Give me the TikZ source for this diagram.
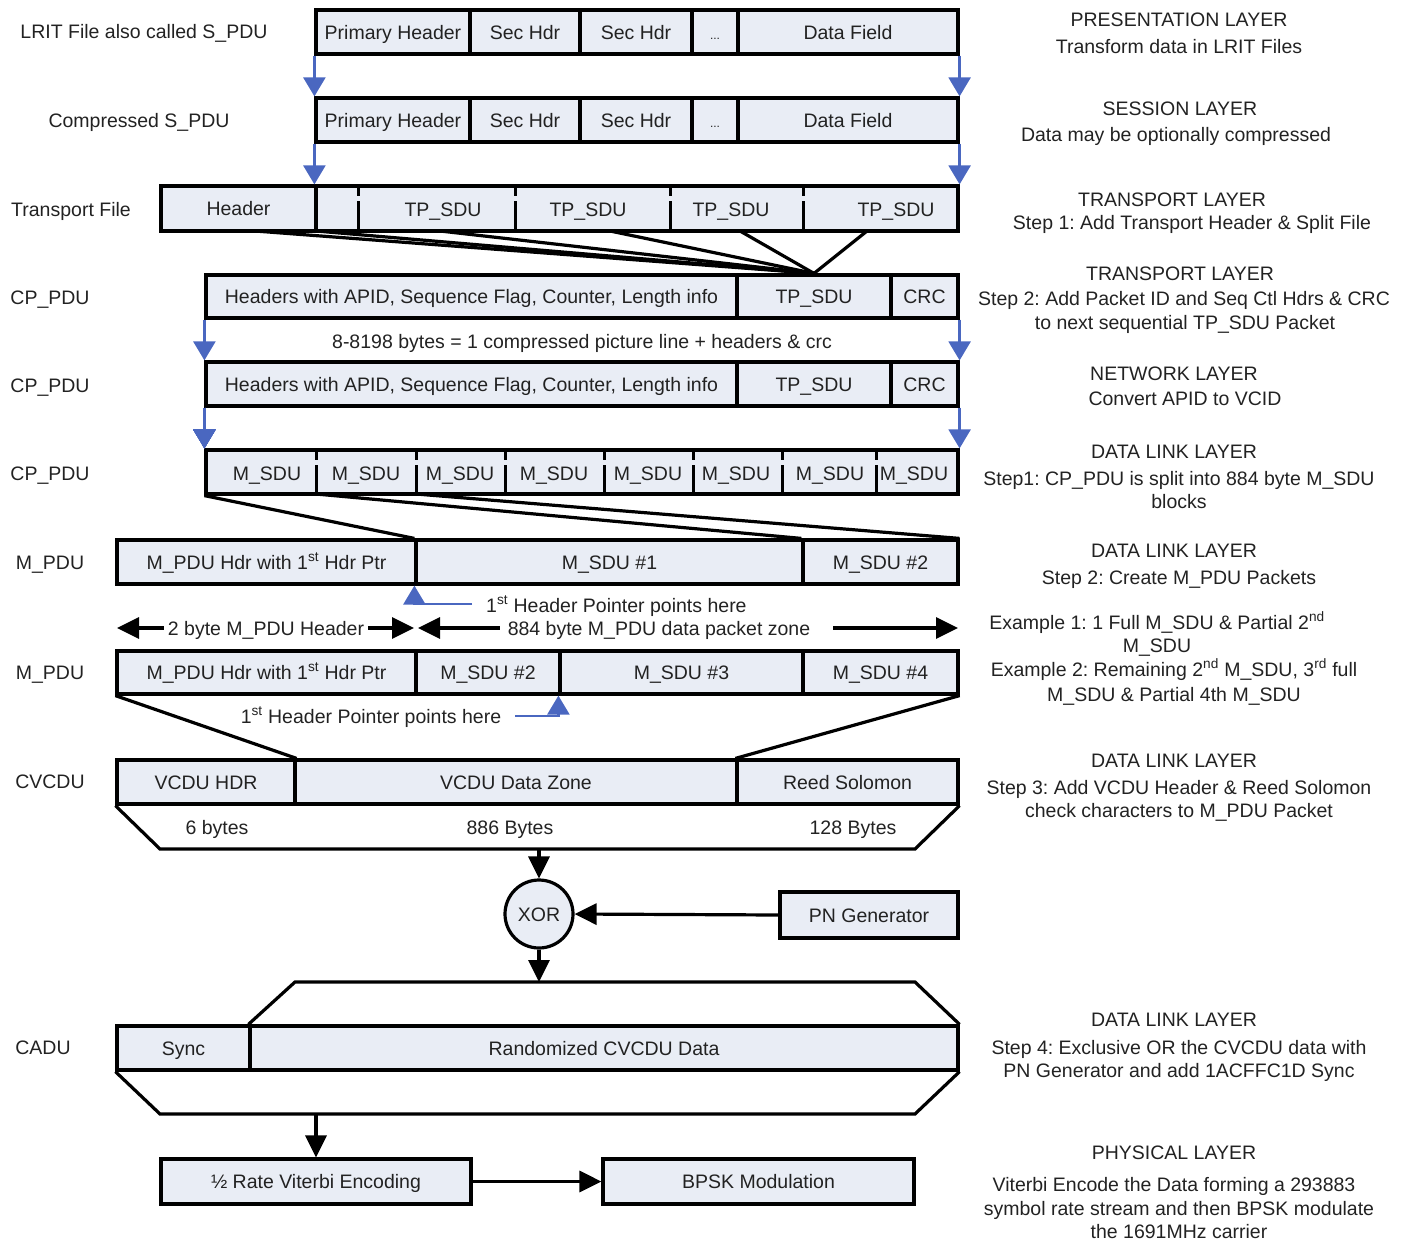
\documentclass[tikz,border=0pt]{standalone}
\usepackage{fontspec}
\setmainfont{Liberation Sans}
\usetikzlibrary{arrows.meta,calc}
\definecolor{cellfill}{HTML}{E9EDF5}
\definecolor{ptrblue}{HTML}{4A67C0}
\definecolor{ink}{HTML}{222222}
\frenchspacing
\newcommand\boxfont{\fontsize{19.5}{24}\selectfont}
\tikzset{
  lbl/.style={inner sep=0pt, font=\boxfont, text=ink, text height=14pt, text depth=0pt},
  cell/.style={lbl, draw=black, fill=cellfill, line width=3.2pt},
  thick line/.style={line width=3.2pt},
  divider/.style={line width=3pt, dash pattern=on 8pt off 5pt on 40pt off 0pt},
  bluearrow/.style={draw=ptrblue, line width=2.4pt, -{Triangle[length=19pt,width=22pt]}},
  blackarrow/.style={line width=3.2pt, -{Triangle[length=22pt,width=21pt]}},
}
% one cell of a packet row: name, x1, x2, y1, y2, text
\newcommand\cellbox[6]{\node[cell, minimum width={(#3-#2)*1pt}, minimum height={(#5-#4)*1pt}] (#1) at ({(#2+#3)/2},{(#4+#5)/2}) {#6};}
% a single line of free text: name, x, y, text
\newcommand\txt[4]{\node[lbl] (#1) at (#2,#3) {#4};}
\newcommand\dotsfont{\fontsize{12}{14}\selectfont}
\begin{document}
\begin{tikzpicture}[x=1pt,y=-1pt]
\useasboundingbox (0,0) rectangle (1406,1242);

% ---------- row labels on the left ----------
\txt{lLrit}{144}{31}{LRIT File also called S\_PDU}
\txt{lComp}{139}{120}{Compressed S\_PDU}
\txt{lTrans}{71}{209}{Transport File}
\txt{lCp1}{50}{297}{CP\_PDU}
\txt{lCp2}{50}{385}{CP\_PDU}
\txt{lCp3}{50}{473}{CP\_PDU}
\txt{lMp1}{50}{562}{M\_PDU}
\txt{lMp2}{50}{672}{M\_PDU}
\txt{lCv}{50}{781}{CVCDU}
\txt{lCa}{43}{1047}{CADU}

% ---------- fan-in lines (drawn first, boxes sit on top) ----------
\foreach \x [count=\i] in {255,316,440,610,740,867}
  \coordinate (fa\i) at (\x,231);
\coordinate (fb1) at (316,494);
\coordinate (fb2) at (416,494);

% ---------- S_PDU ----------
\cellbox{a1}{316}{470}{10}{54}{Primary Header}
\cellbox{a2}{470}{580}{10}{54}{Sec Hdr}
\cellbox{a3}{580}{692}{10}{54}{Sec Hdr}
\cellbox{a4}{692}{738}{10}{54}{\dotsfont ...}
\cellbox{a5}{738}{958}{10}{54}{Data Field}

% ---------- compressed S_PDU ----------
\cellbox{b1}{316}{470}{98}{142}{Primary Header}
\cellbox{b2}{470}{580}{98}{142}{Sec Hdr}
\cellbox{b3}{580}{692}{98}{142}{Sec Hdr}
\cellbox{b4}{692}{738}{98}{142}{\dotsfont ...}
\cellbox{b5}{738}{958}{98}{142}{Data Field}
\draw[bluearrow] (a1.south west) -- (b1.north west);
\draw[bluearrow] (a5.south east) -- (b5.north east);

% ---------- transport file ----------
\cellbox{c0}{161}{316}{186}{231}{Header}
\cellbox{c1}{316}{958}{186}{231}{}
\foreach \x in {358,515,670,803} \draw[divider] (\x,188) -- (\x,229);
\txt{tp1}{443}{209}{TP\_SDU}
\txt{tp2}{588}{209}{TP\_SDU}
\txt{tp3}{731}{209}{TP\_SDU}
\txt{tp4}{896}{209}{TP\_SDU}
\draw[bluearrow] (b1.south west) -- (c1.north west);
\draw[bluearrow] (b5.south east) -- (c1.north east);

% ---------- CP_PDU ----------
\cellbox{d1}{206}{737}{275}{318}{Headers with APID, Sequence Flag, Counter, Length info}
\cellbox{d2}{737}{891}{275}{318}{TP\_SDU}
\cellbox{d3}{891}{958}{275}{318}{CRC}
\foreach \i in {1,...,6} \draw[thick line] (fa\i) -- (d2.north);
\txt{cpsize}{582}{341}{8-8198 bytes = 1 compressed picture line + headers \& crc}

\cellbox{e1}{206}{737}{362}{406}{Headers with APID, Sequence Flag, Counter, Length info}
\cellbox{e2}{737}{891}{362}{406}{TP\_SDU}
\cellbox{e3}{891}{958}{362}{406}{CRC}
\draw[bluearrow] (d1.south west) -- (e1.north west);
\draw[bluearrow] (d3.south east) -- (e3.north east);

% ---------- CP_PDU split into M_SDUs ----------
\cellbox{f}{206}{958}{450}{494}{}
\foreach \x in {316,416,505,604,693,782,876} \draw[divider] (\x,452) -- (\x,492);
\foreach \x [count=\i] in {267,366,460,554,648,736,830,914}
  \txt{ms\i}{\x}{473}{M\_SDU}
\draw[bluearrow] (e1.south west) -- (f.north west);
\draw[bluearrow] (e3.south east) -- (f.north east);

% ---------- M_PDU example 1 ----------
\cellbox{g1}{117}{416}{540}{584}{M\_PDU Hdr with 1\textsuperscript{st} Hdr Ptr}
\cellbox{g2}{416}{803}{540}{584}{M\_SDU \#1}
\cellbox{g3}{803}{958}{540}{584}{M\_SDU \#2}
\draw[thick line] (f.south west) -- (g2.north west);
\draw[thick line] (fb1) -- (g3.north west);
\draw[thick line] (fb2) -- (g3.north east);

\coordinate (p1) at (472,604);
\draw[bluearrow] (p1) -| (g2.south west);
\node[lbl, anchor=west] (p1t) at (486,605) {1\textsuperscript{st} Header Pointer points here};

% ---------- size arrows ----------
\node[lbl, inner xsep=4pt] (hdrlen) at (266,628) {2 byte M\_PDU Header};
\node[lbl, inner xsep=8pt] (zonelen) at (659,628) {884 byte M\_PDU data packet zone};
\coordinate (zl) at (117,628);
\coordinate (zm1) at (414,628);
\coordinate (zm2) at (418,628);
\coordinate (zs) at (833,628);
\coordinate (zr) at (958,628);
\draw[blackarrow] (hdrlen.west) -- (zl);
\draw[blackarrow] (hdrlen.east) -- (zm1);
\draw[blackarrow] (zonelen.west) -- (zm2);
\draw[blackarrow] (zs) -- (zr);

% ---------- M_PDU example 2 ----------
\cellbox{h1}{117}{416}{651}{694}{M\_PDU Hdr with 1\textsuperscript{st} Hdr Ptr}
\cellbox{h2}{416}{560}{651}{694}{M\_SDU \#2}
\cellbox{h3}{560}{803}{651}{694}{M\_SDU \#3}
\cellbox{h4}{803}{958}{651}{694}{M\_SDU \#4}
\txt{p2t}{371}{716}{1\textsuperscript{st} Header Pointer points here}
\coordinate (p2) at (515,716);
\draw[bluearrow] (p2) -| (h3.south west);

% ---------- CVCDU ----------
\cellbox{i1}{117}{295}{760}{804}{VCDU HDR}
\cellbox{i2}{295}{737}{760}{804}{VCDU Data Zone}
\cellbox{i3}{737}{958}{760}{804}{Reed Solomon}
\draw[thick line] (h1.south west) -- (i1.north east);
\draw[thick line] (h4.south east) -- (i3.north west);
\coordinate (tb1) at (160,849);
\coordinate (tb2) at (915,849);
\coordinate (trapbot) at (539,849);
\draw[thick line] (i1.south west) -- (tb1) -- (tb2) -- (i3.south east);
\txt{sz1}{217}{827}{6 bytes}
\txt{sz2}{510}{827}{886 Bytes}
\txt{sz3}{853}{827}{128 Bytes}

% ---------- randomiser ----------
\node[cell, circle, minimum size=68pt] (xor) at (539,914) {XOR};
\cellbox{pn}{780}{958}{892}{938}{PN Generator}
\draw[blackarrow] (trapbot) -- (xor.north);
\draw[blackarrow] (pn.west) -- (xor.east);

% ---------- CADU ----------
\cellbox{j1}{117}{250}{1026}{1070}{Sync}
\cellbox{j2}{250}{958}{1026}{1070}{Randomized CVCDU Data}
\coordinate (ct1) at (295,982);
\coordinate (ct2) at (915,982);
\coordinate (cadutop) at (539,982);
\draw[thick line] (j2.north west) -- (ct1) -- (ct2) -- (j2.north east);
\coordinate (cb1) at (160,1114);
\coordinate (cb2) at (915,1114);
\coordinate (cadubot) at (316,1114);
\draw[thick line] (j1.south west) -- (cb1) -- (cb2) -- (j2.south east);
\draw[blackarrow] (xor.south) -- (cadutop);

% ---------- physical layer ----------
\cellbox{k1}{161}{471}{1159}{1204}{\textonehalf\ Rate Viterbi Encoding}
\cellbox{k2}{603}{914}{1159}{1204}{BPSK Modulation}
\draw[blackarrow] (cadubot) -- (k1.north);
\draw[blackarrow] (k1.east) -- (k2.west);

% ---------- layer descriptions on the right ----------
\txt{n1}{1179}{20}{PRESENTATION LAYER}
\txt{n2}{1179}{46}{Transform data in LRIT Files}
\txt{n3}{1180}{108}{SESSION LAYER}
\txt{n4}{1176}{134}{Data may be optionally compressed}
\txt{n5}{1172}{199}{TRANSPORT LAYER}
\txt{n6}{1192}{222}{Step 1: Add Transport Header \& Split File}
\txt{n7}{1180}{273}{TRANSPORT LAYER}
\txt{n8}{1184}{298}{Step 2: Add Packet ID and Seq Ctl Hdrs \& CRC}
\txt{n9}{1185}{322}{to next sequential TP\_SDU Packet}
\txt{n10}{1174}{373}{NETWORK LAYER}
\txt{n11}{1185}{398}{Convert APID to VCID}
\txt{n12}{1174}{451}{DATA LINK LAYER}
\txt{n13}{1179}{478}{Step1: CP\_PDU is split into 884 byte M\_SDU}
\txt{n14}{1179}{501}{blocks}
\txt{n15}{1174}{550}{DATA LINK LAYER}
\txt{n16}{1179}{577}{Step 2: Create M\_PDU Packets}
\txt{n17}{1157}{622}{Example 1: 1 Full M\_SDU \& Partial 2\textsuperscript{nd}}
\txt{n18}{1157}{645}{M\_SDU}
\txt{n19}{1174}{669}{Example 2: Remaining 2\textsuperscript{nd} M\_SDU, 3\textsuperscript{rd} full}
\txt{n20}{1174}{694}{M\_SDU \& Partial 4th M\_SDU}
\txt{n21}{1174}{760}{DATA LINK LAYER}
\txt{n22}{1179}{787}{Step 3: Add VCDU Header \& Reed Solomon}
\txt{n23}{1179}{810}{check characters to M\_PDU Packet}
\txt{n24}{1174}{1019}{DATA LINK LAYER}
\txt{n25}{1179}{1047}{Step 4: Exclusive OR the CVCDU data with}
\txt{n26}{1179}{1070}{PN Generator and add 1ACFFC1D Sync}
\txt{n27}{1174}{1152}{PHYSICAL LAYER}
\txt{n28}{1174}{1184}{Viterbi Encode the Data forming a 293883}
\txt{n29}{1179}{1208}{symbol rate stream and then BPSK modulate}
\txt{n30}{1179}{1231}{the 1691MHz carrier}
\end{tikzpicture}
\end{document}
